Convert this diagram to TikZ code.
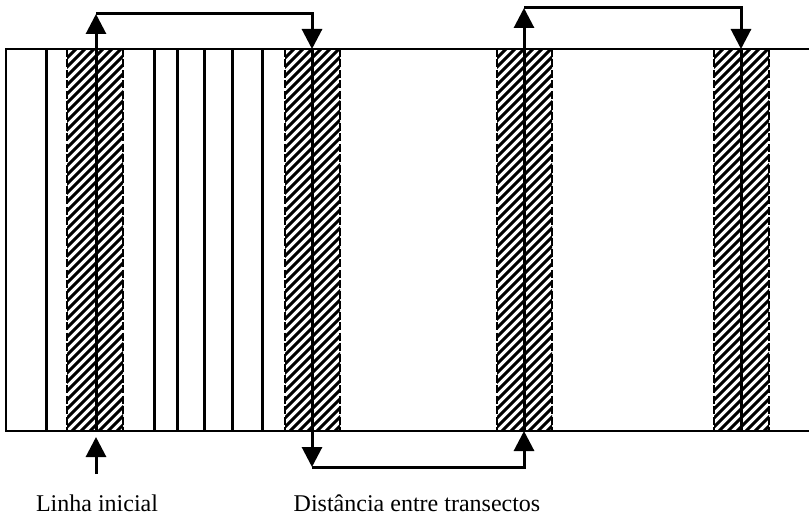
\documentclass[tikz,border=0pt]{standalone}
\usepackage{fontspec}
\setmainfont{Liberation Serif}
\usetikzlibrary{arrows.meta}
\begin{document}
\begin{tikzpicture}[x=1pt,y=-1pt,
  frame/.style={line width=2.6pt},
  divline/.style={line width=3pt},
  hatch/.style={line width=3pt},
  stripedge/.style={line width=2.8pt,dash pattern=on 8pt off 2.5pt},
  tline/.style={line width=3pt},
  arr/.style={line width=3pt,-{Triangle[length=20pt,width=20pt]}},
  lab/.style={font=\fontsize{24}{28}\selectfont, inner sep=0pt, anchor=base}]
\useasboundingbox (0,0) rectangle (809,519);
% frame
\coordinate (tl) at (6,49);
\coordinate (tr) at (809,49);
\coordinate (bl) at (6,431);
\coordinate (br) at (809,431);
\draw[frame] (tr) -- (tl) -- (bl) -- (br);
% plain dividing lines
\foreach \x in {46,154,177,204,232,262}
  \draw[divline] (\x,49) -- (\x,431);
% hatched strips
\foreach \xa/\xb in {67/123,285/340,497/552,714/769}{
  \begin{scope}
    \clip (\xa,49) rectangle (\xb,431);
    \foreach \k in {-400,-391,...,60}
      \draw[hatch] (\xa+\k,431) -- (\xa+\k+400,31);
  \end{scope}
  \draw[stripedge] (\xa,49) -- (\xa,431);
  \draw[stripedge] (\xb,49) -- (\xb,431);
}
% transects and distance arrows
\coordinate (t1b) at (96,431);
\coordinate (a1) at (96,14);
\coordinate (a2) at (312,14);
\coordinate (t2t) at (312,49);
\coordinate (a3) at (312,467);
\coordinate (a4) at (524,467);
\coordinate (t3b) at (524,431);
\coordinate (a5) at (524,8);
\coordinate (a6) at (741,8);
\coordinate (t4t) at (741,49);
\coordinate (t4b) at (741,431);
\draw[arr] (t1b) -- (a1);
\draw[arr] (a1) -- (a2) -- (t2t);
\draw[arr] (t2t) -- (a3);
\draw[arr] (a3) -- (a4) -- (t3b);
\draw[arr] (t3b) -- (a5);
\draw[arr] (a5) -- (a6) -- (t4t);
\draw[tline] (t4t) -- (t4b);
% start arrow
\coordinate (s0) at (96,474);
\coordinate (s1) at (96,437);
\draw[arr] (s0) -- (s1);
% labels
\node[lab] (l1) at (97,511) {Linha inicial};
\node[lab] (l2) at (417,511) {Distância entre transectos};
\end{tikzpicture}
\end{document}
